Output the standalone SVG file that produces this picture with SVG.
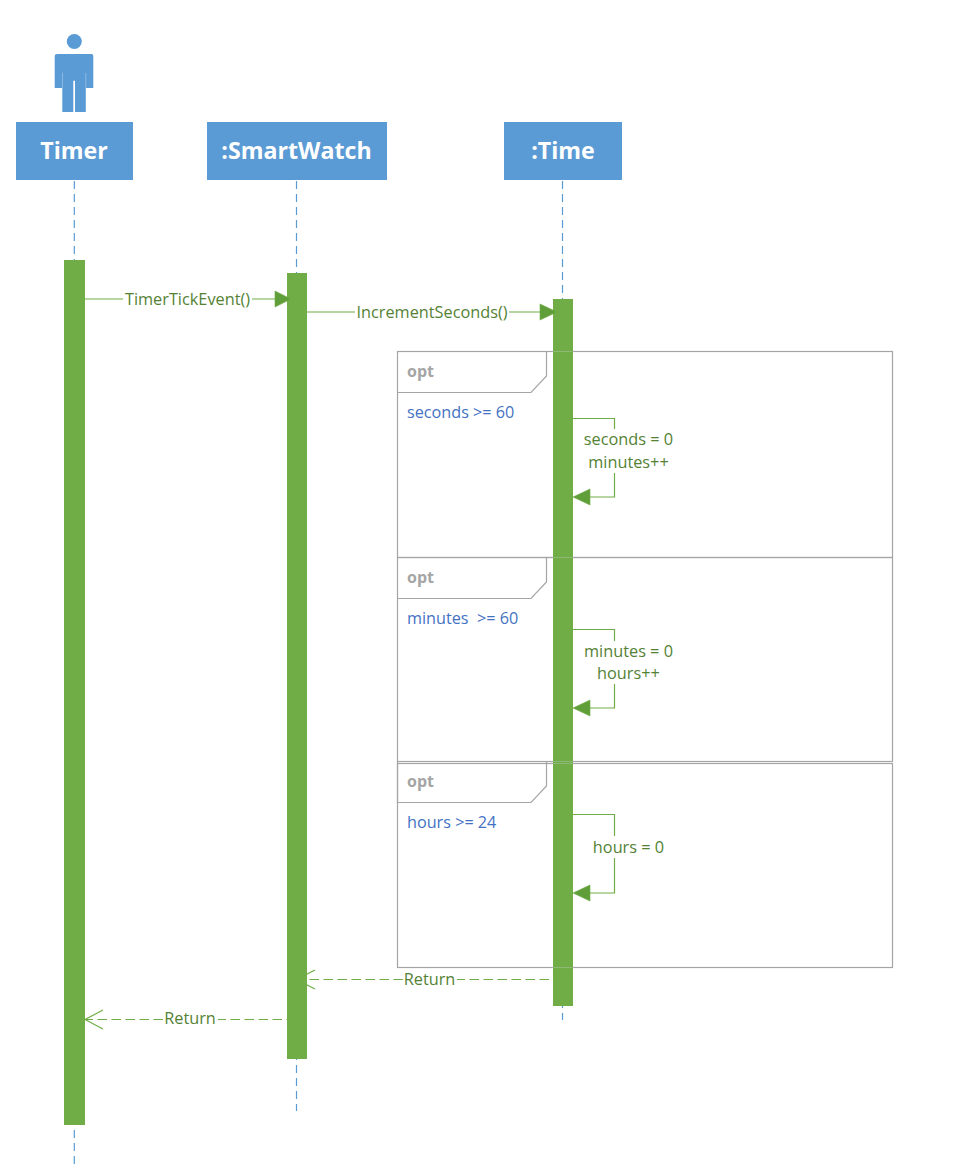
<svg xmlns="http://www.w3.org/2000/svg" width="968" height="1173" viewBox="0 0 968 1173">
<style>
text{font-family:"Open Sans","Noto Sans","Liberation Sans",sans-serif}
.head{fill:#5B9BD5}
.title{fill:#fff;font-size:23.2px;font-weight:700;text-anchor:middle}
.life{stroke:#5B9BD5;stroke-width:1.2;stroke-dasharray:8 5;fill:none}
.bar{fill:#70AD47}
.frame{fill:none;stroke:#A5A5A5;stroke-width:1.2}
.cross{stroke:#8FB878;stroke-width:1;fill:none}
.opt{fill:#A5A5A5;font-size:16px;font-weight:700}
.cond{fill:#4472C4;font-size:16.2px}
.msg{fill:#548235;font-size:16.3px;text-anchor:middle}
.line{fill:none;stroke:#70AD47;stroke-width:1.2}
.dash{fill:none;stroke:#70AD47;stroke-width:1.2;stroke-dasharray:9.500 4.500}
.tip{fill:#5F9E38;stroke:#70AD47;stroke-width:.6}
</style>
<g id="actor-figure">
<circle class="head" cx="74.300" cy="41.500" r="7.500"/>
<path class="head" d="M57 54H91.600Q93.300 54 93.300 56V88H86.100V72.700H85.800V112H75V80.700H73.300V112H62.300V72.700H62V88H54.700V56Q54.700 54 57 54Z"/>
</g>
<g id="frames">
<g id="opt1"><rect class="frame" x="397.500" y="351.500" width="495" height="206"/><path class="frame" d="M397.500 392.500H531L546.500 376V351.500"/>
<text class="opt" x="407" y="377">opt</text><text class="cond" x="407" y="418">seconds &gt;= 60</text></g>
<g id="opt2"><rect class="frame" x="397.500" y="557.500" width="495" height="204"/><path class="frame" d="M397.500 598.500H531L546.500 582V557.500"/>
<text class="opt" x="407" y="583">opt</text><text class="cond" x="407" y="624" xml:space="preserve">minutes  &gt;= 60</text></g>
<g id="opt3"><rect class="frame" x="397.500" y="763.500" width="495" height="204"/><path class="frame" d="M397.500 761.500V802.500H531L546.500 786V761.500"/>
<text class="opt" x="407" y="787">opt</text><text class="cond" x="407" y="828">hours &gt;= 24</text></g>
</g>
<g id="lifelines">
<path class="life" d="M74.300 181V1165"/><path class="life" d="M296.500 181V1111"/><path class="life" d="M562.500 181V1020"/>
</g>
<g id="timer"><rect class="head" x="16" y="122" width="117" height="58"/><text class="title" x="74" y="158.500">Timer</text>
<rect class="bar" x="64" y="260" width="21" height="865"/></g>
<g id="smartwatch"><rect class="head" x="207" y="122" width="180" height="58"/><text class="title" x="296.500" y="158.500">:SmartWatch</text>
<rect class="bar" x="287" y="273" width="20" height="786"/></g>
<g id="time"><rect class="head" x="504" y="122" width="118" height="58"/><text class="title" x="563" y="158.500">:Time</text>
<rect class="bar" x="553" y="299" width="20" height="707"/></g>
<path class="cross" d="M553 351.500H573M553 557.500H573M553 761.500H573M553 763.500H573M553 967.500H573"/>
<g id="connectors">
<path class="line" d="M85 299H123M252 299H275"/><path class="tip" d="M275 291L291 299L275 307Z"/>
<path class="line" d="M307 312H355M509 312H540"/><path class="tip" d="M540 304L557 312L540 320Z"/>
<path class="line" d="M573 418.500H614.500V429M614.500 473V497H590"/><path class="tip" d="M590 489L573 497L590 505Z"/>
<path class="line" d="M573 629.500H614.500V641M614.500 684V708H590"/><path class="tip" d="M590 700L573 708L590 716Z"/>
<path class="line" d="M573 814.500H614.500V836M614.500 858V893H590"/><path class="tip" d="M590 885L573 893L590 901Z"/>
<path class="dash" d="M563 979.500H457M403 979.500H296"/><path class="line" d="M315 970L296.500 979.500L315 989"/>
<path class="dash" d="M296 1019.500H218M163 1019.500H85"/><path class="line" d="M103 1010L85 1019.500L103 1029"/>
</g>
<g id="labels">
<text class="msg" x="187.500" y="304.500">TimerTickEvent()</text>
<text class="msg" x="432" y="317.500">IncrementSeconds()</text>
<text class="msg" x="628.500" y="445">seconds = 0</text>
<text class="msg" x="628.500" y="468">minutes++</text>
<text class="msg" x="628.500" y="657">minutes = 0</text>
<text class="msg" x="628.500" y="679">hours++</text>
<text class="msg" x="628.500" y="853">hours = 0</text>
<text class="msg" x="429.500" y="985">Return</text>
<text class="msg" x="190" y="1024">Return</text>
</g>
</svg>
